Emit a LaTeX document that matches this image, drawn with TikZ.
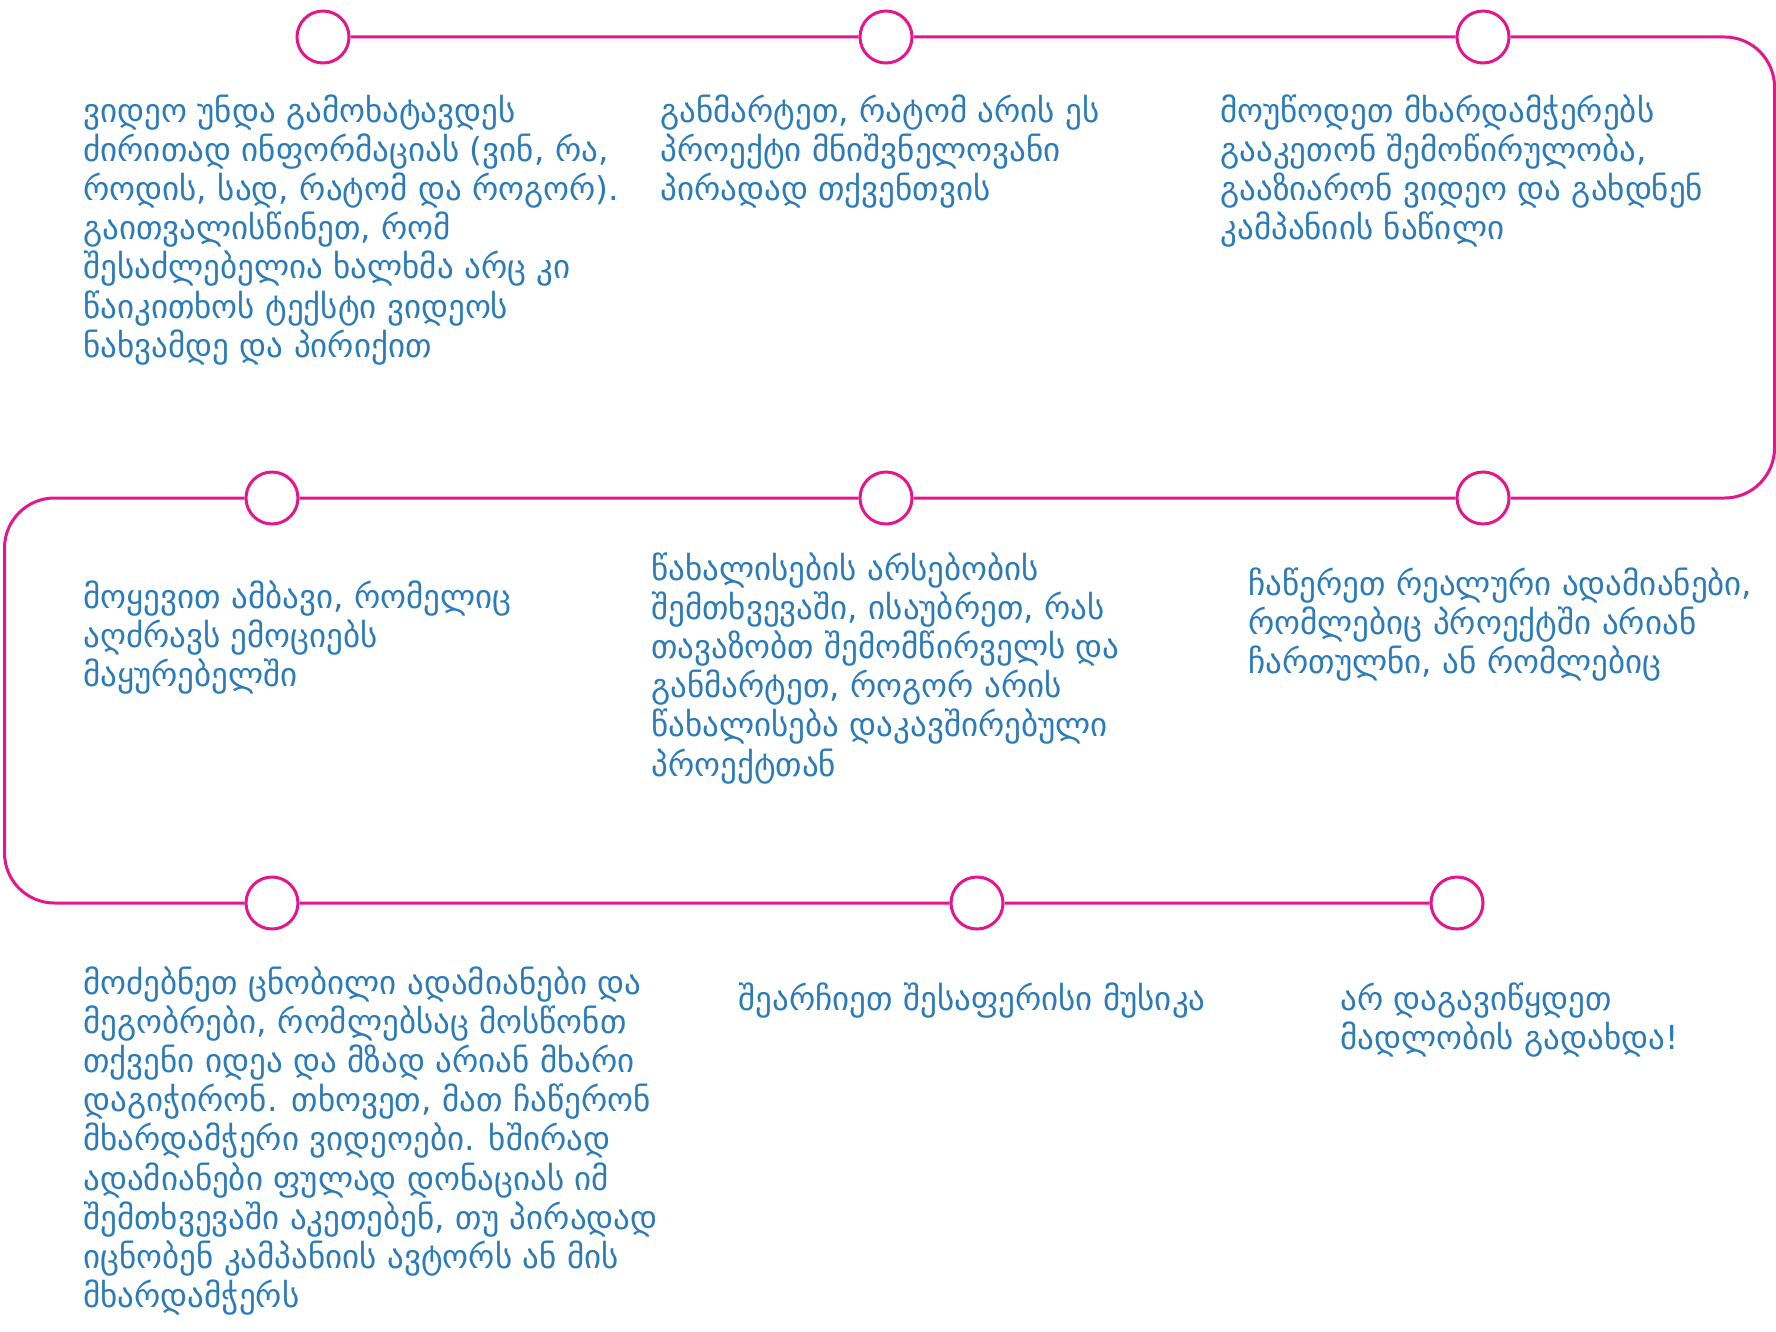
\documentclass[tikz,border=0pt]{standalone}
\usepackage{fontspec}
\setmainfont{DejaVu Sans}
\usetikzlibrary{calc}

\definecolor{tlpink}{HTML}{E5168C}
\definecolor{tlblue}{HTML}{2B7BB9}

\begin{document}
\begin{tikzpicture}[x=0.5pt,y=-0.5pt,
  stop/.style={circle,draw=tlpink,fill=white,line width=1.5pt,minimum size=26pt,inner sep=0pt},
  track/.style={draw=tlpink,line width=1.5pt,rounded corners=25pt},
  tip/.style={anchor=north west,inner sep=0pt,align=left,text=tlblue,
    font=\fontsize{16.5}{19.6}\selectfont}]
  \useasboundingbox (0,0) rectangle (1776,1332);
  % stops
  \node [stop] (s1) at (323,37) {};
  \node [stop] (s2) at (886,37) {};
  \node [stop] (s3) at (1483,37) {};
  \node [stop] (s4) at (272,498) {};
  \node [stop] (s5) at (886,498) {};
  \node [stop] (s6) at (1483,498) {};
  \node [stop] (s7) at (272,903) {};
  \node [stop] (s8) at (977,903) {};
  \node [stop] (s9) at (1457,903) {};
  \coordinate (ne) at (1774.5,37);
  \coordinate (se) at (1774.5,498);
  \coordinate (nw) at (4.5,498);
  \coordinate (sw) at (4.5,903);
  % track
  \path [track]
  (s1) -- (s2) (s2) -- (s3)
  (s3.east) -- (ne) -- (se) -- (s6.east)
  (s6) -- (s5) (s5) -- (s4)
  (s4.west) -- (nw) -- (sw) -- (s7.west)
  (s7) -- (s8) (s8) -- (s9)
  ;
  % texts
  \node [tip] (t1) at (83,94) {ვიდეო უნდა გამოხატავდეს\\ძირითად ინფორმაციას (ვინ, რა,\\როდის, სად, რატომ და როგორ).\\გაითვალისწინეთ, რომ\\შესაძლებელია ხალხმა არც კი\\წაიკითხოს ტექსტი ვიდეოს\\ნახვამდე და პირიქით};
  \node [tip] (t2) at (660,94) {განმარტეთ, რატომ არის ეს\\პროექტი მნიშვნელოვანი\\პირადად თქვენთვის};
  \node [tip] (t3) at (1220,94) {მოუწოდეთ მხარდამჭერებს\\გააკეთონ შემოწირულობა,\\გააზიარონ ვიდეო და გახდნენ\\კამპანიის ნაწილი};
  \node [tip] (t4) at (83,580) {მოყევით ამბავი, რომელიც\\აღძრავს ემოციებს\\მაყურებელში};
  \node [tip] (t5) at (651,552) {წახალისების არსებობის\\შემთხვევაში, ისაუბრეთ, რას\\თავაზობთ შემომწირველს და\\განმარტეთ, როგორ არის\\წახალისება დაკავშირებული\\პროექტთან};
  \node [tip] (t6) at (1248,567) {ჩაწერეთ რეალური ადამიანები,\\რომლებიც პროექტში არიან\\ჩართულნი, ან რომლებიც};
  \node [tip] (t7) at (83,966) {მოძებნეთ ცნობილი ადამიანები და\\მეგობრები, რომლებსაც მოსწონთ\\თქვენი იდეა და მზად არიან მხარი\\დაგიჭირონ. თხოვეთ, მათ ჩაწერონ\\მხარდამჭერი ვიდეოები. ხშირად\\ადამიანები ფულად დონაციას იმ\\შემთხვევაში აკეთებენ, თუ პირადად\\იცნობენ კამპანიის ავტორს ან მის\\მხარდამჭერს};
  \node [tip] (t8) at (738,982) {შეარჩიეთ შესაფერისი მუსიკა};
  \node [tip] (t9) at (1340,982) {არ დაგავიწყდეთ\\მადლობის გადახდა!};
\end{tikzpicture}
\end{document}
